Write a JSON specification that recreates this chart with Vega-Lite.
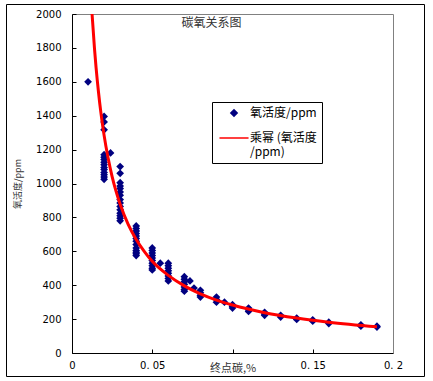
{
  "$schema": "https://vega.github.io/schema/vega-lite/v6.json",
  "autosize": {"type": "none"},
  "padding": {"left": 6, "top": 4, "right": 9, "bottom": 5},
  "width": 418,
  "height": 372,
  "background": "white",
  "config": {
    "view": {"stroke": "black", "strokeWidth": 1, "fill": "white"},
    "axis": {"grid": false, "labelFont": "DejaVu Sans", "labelFontSize": 10, "labelColor": "black", "titleFont": "Noto Sans CJK SC", "titleFontWeight": "normal", "titleColor": "#333333"}
  },
  "datasets": {
    "pts": [
      {"c": 0.01, "o": 1600},
      {"c": 0.02, "o": 1396}, {"c": 0.02, "o": 1363}, {"c": 0.02, "o": 1317}, {"c": 0.02, "o": 1170}, {"c": 0.02, "o": 1155}, {"c": 0.02, "o": 1141}, {"c": 0.02, "o": 1125}, {"c": 0.02, "o": 1111}, {"c": 0.02, "o": 1095}, {"c": 0.02, "o": 1082}, {"c": 0.02, "o": 1065}, {"c": 0.02, "o": 1052}, {"c": 0.02, "o": 1038}, {"c": 0.02, "o": 1025},
      {"c": 0.024, "o": 1180},
      {"c": 0.03, "o": 1100}, {"c": 0.03, "o": 1060}, {"c": 0.03, "o": 1005}, {"c": 0.03, "o": 985}, {"c": 0.03, "o": 970}, {"c": 0.03, "o": 950}, {"c": 0.03, "o": 930}, {"c": 0.03, "o": 905}, {"c": 0.03, "o": 885}, {"c": 0.03, "o": 865}, {"c": 0.03, "o": 845}, {"c": 0.03, "o": 825}, {"c": 0.03, "o": 810}, {"c": 0.03, "o": 795}, {"c": 0.03, "o": 780},
      {"c": 0.04, "o": 750}, {"c": 0.04, "o": 735}, {"c": 0.04, "o": 720}, {"c": 0.04, "o": 705}, {"c": 0.04, "o": 690}, {"c": 0.04, "o": 675}, {"c": 0.04, "o": 660}, {"c": 0.04, "o": 640}, {"c": 0.04, "o": 620}, {"c": 0.04, "o": 605}, {"c": 0.04, "o": 595}, {"c": 0.04, "o": 585}, {"c": 0.04, "o": 575},
      {"c": 0.05, "o": 620}, {"c": 0.05, "o": 605}, {"c": 0.05, "o": 590}, {"c": 0.05, "o": 575}, {"c": 0.05, "o": 560}, {"c": 0.05, "o": 545}, {"c": 0.05, "o": 530}, {"c": 0.05, "o": 515}, {"c": 0.05, "o": 500}, {"c": 0.05, "o": 490},
      {"c": 0.055, "o": 530},
      {"c": 0.06, "o": 530}, {"c": 0.06, "o": 515}, {"c": 0.06, "o": 500}, {"c": 0.06, "o": 485}, {"c": 0.06, "o": 470}, {"c": 0.06, "o": 455}, {"c": 0.06, "o": 440}, {"c": 0.06, "o": 425},
      {"c": 0.07, "o": 450}, {"c": 0.07, "o": 435}, {"c": 0.07, "o": 420}, {"c": 0.07, "o": 405}, {"c": 0.07, "o": 390}, {"c": 0.07, "o": 375}, {"c": 0.07, "o": 365},
      {"c": 0.0735, "o": 425},
      {"c": 0.076, "o": 383},
      {"c": 0.08, "o": 370}, {"c": 0.08, "o": 355}, {"c": 0.08, "o": 340}, {"c": 0.08, "o": 330},
      {"c": 0.09, "o": 330}, {"c": 0.09, "o": 315}, {"c": 0.09, "o": 300},
      {"c": 0.095, "o": 300},
      {"c": 0.1, "o": 285}, {"c": 0.1, "o": 275}, {"c": 0.1, "o": 265},
      {"c": 0.11, "o": 265}, {"c": 0.11, "o": 255}, {"c": 0.11, "o": 245},
      {"c": 0.12, "o": 240}, {"c": 0.12, "o": 230}, {"c": 0.12, "o": 222},
      {"c": 0.13, "o": 222}, {"c": 0.13, "o": 212},
      {"c": 0.14, "o": 206}, {"c": 0.14, "o": 198},
      {"c": 0.15, "o": 196}, {"c": 0.15, "o": 188},
      {"c": 0.16, "o": 182}, {"c": 0.16, "o": 174},
      {"c": 0.18, "o": 166}, {"c": 0.18, "o": 158},
      {"c": 0.19, "o": 158}, {"c": 0.19, "o": 153}
    ],
    "fit": [
      {"c": 0.0125, "o": 2000}, {"c": 0.014, "o": 1797}, {"c": 0.015, "o": 1684}, {"c": 0.0165, "o": 1540}, {"c": 0.018, "o": 1418}, {"c": 0.02, "o": 1284}, {"c": 0.0225, "o": 1150}, {"c": 0.025, "o": 1041}, {"c": 0.0275, "o": 952}, {"c": 0.03, "o": 878}, {"c": 0.035, "o": 759}, {"c": 0.04, "o": 670}, {"c": 0.045, "o": 600}, {"c": 0.05, "o": 541}, {"c": 0.06, "o": 458}, {"c": 0.07, "o": 396}, {"c": 0.08, "o": 349}, {"c": 0.09, "o": 312}, {"c": 0.1, "o": 283}, {"c": 0.12, "o": 238}, {"c": 0.14, "o": 206}, {"c": 0.16, "o": 182}, {"c": 0.19, "o": 155}
    ]
  },
  "layer": [
    {
      "data": {"name": "pts"},
      "mark": {"type": "point", "filled": true, "size": 60, "opacity": 1},
      "encoding": {
        "x": {"field": "c", "type": "quantitative",
          "scale": {"domain": [0, 0.2], "range": [66, 387], "nice": false, "zero": false},
          "axis": {"orient": "bottom", "offset": -23, "values": [0, 0.05, 0.1, 0.15, 0.2], "labelExpr": "datum.value == 0 ? '0' : (abs(datum.value - 0.1) < 0.001 ? '' : replace(format(datum.value, '.2~f'), '.', '. '))", "tickSize": -4, "tickColor": "black", "domainColor": "black", "labelPadding": 11, "labelFlush": false, "labelOverlap": false, "title": "终点碳,%", "titleFontSize": 11, "titleY": 15, "titleBaseline": "middle"}},
        "y": {"field": "o", "type": "quantitative",
          "scale": {"domain": [0, 2000], "range": [349, 10], "nice": false, "zero": false},
          "axis": {"orient": "left", "offset": -66, "values": [0, 200, 400, 600, 800, 1000, 1200, 1400, 1600, 1800, 2000], "format": "d", "tickSize": -4, "tickColor": "black", "domainColor": "black", "labelPadding": 15, "labelFlush": false, "labelOverlap": false, "title": "氧活度/ppm", "titleFontSize": 9, "titleX": -55, "titleBaseline": "middle"}},
        "color": {"datum": "氧活度/ppm", "type": "nominal",
          "scale": {"domain": ["氧活度/ppm", "乘幂 (氧活度/ppm)"], "range": ["#000080", "#FF0000"]},
          "legend": {"title": null, "orient": "none", "legendX": 206, "legendY": 98, "strokeColor": "black", "fillColor": "white", "padding": 5, "symbolSize": 40, "symbolOffset": 11, "labelOffset": 10, "rowPadding": 12, "labelFont": "Noto Sans CJK SC", "labelFontSize": 12, "labelColor": "black", "labelLimit": 200,
            "labelExpr": "datum.label == '乘幂 (氧活度/ppm)' ? ['乘幂 (氧活度', '/ppm)'] : datum.label",
            "encode": {"symbols": {"update": {
              "fill": {"signal": "datum.value == '氧活度/ppm' ? '#000080' : 'transparent'"},
              "stroke": {"signal": "datum.value == '氧活度/ppm' ? 'transparent' : '#FF0000'"},
              "strokeWidth": {"value": 3},
              "opacity": {"value": 1}
            }}}}},
        "shape": {"datum": "氧活度/ppm", "type": "nominal",
          "scale": {"domain": ["氧活度/ppm", "乘幂 (氧活度/ppm)"], "range": ["diamond", "M-4.6,0H4.6"]},
          "legend": {"title": null, "orient": "none", "legendX": 206, "legendY": 98, "symbolSize": 40, "symbolOffset": 11, "labelOffset": 10, "labelFont": "Noto Sans CJK SC", "labelFontSize": 12}}
      }
    },
    {
      "data": {"name": "fit"},
      "mark": {"type": "line", "strokeWidth": 3, "interpolate": "monotone", "clip": true},
      "encoding": {
        "x": {"field": "c", "type": "quantitative",
          "scale": {"domain": [0, 0.2], "range": [66, 387], "nice": false, "zero": false},
          "axis": {"orient": "top", "offset": -10, "ticks": false, "labels": false, "domainColor": "#808080", "title": "碳氧关系图", "titleFontSize": 12, "titleX": 205, "titleY": 8, "titleBaseline": "middle", "titleColor": "#333333"}},
        "y": {"field": "o", "type": "quantitative",
          "scale": {"domain": [0, 2000], "range": [349, 10], "nice": false, "zero": false},
          "axis": {"orient": "right", "offset": -31, "ticks": false, "labels": false, "title": null, "domainColor": "#808080"}},
        "color": {"datum": "乘幂 (氧活度/ppm)", "type": "nominal"}
      }
    }
  ],
  "resolve": {"axis": {"x": "independent", "y": "independent"}}
}
